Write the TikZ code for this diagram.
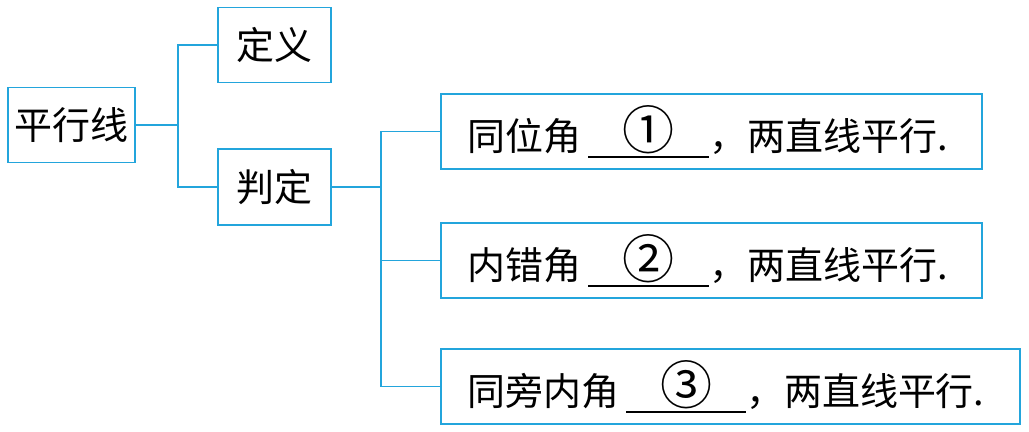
\documentclass[tikz,border=0pt]{standalone}
\usepackage{fontspec}
\setmainfont{Noto Sans CJK SC}
\usetikzlibrary{positioning}
\definecolor{linecol}{RGB}{35,165,220}
\newcommand{\blank}[2]{\makebox[#1]{\fontsize{37}{37}\selectfont\raisebox{1pt}{#2}}\llap{\rule[-5pt]{#1}{1.4pt}}}

\begin{document}
\begin{tikzpicture}[x=0.025cm,y=-0.025cm,
    every node/.style={font=\fontsize{27}{30}\selectfont},
    box/.style={draw=linecol,line width=1.3pt,minimum height=1.875cm,inner sep=0pt},
    wide/.style={box,anchor=west,inner xsep=0.675cm,text width=#1,align=left},
    link/.style={draw=linecol,line width=1.4pt}]
    \useasboundingbox (0,0) rectangle (1029,432);
    \node[box,minimum width=3.175cm] (PX) at (71.5,125) {平行线};
    \node[box,minimum width=2.825cm] (DY) at (274.5,45) {定义};
    \node[box,minimum width=2.825cm,minimum height=1.9cm] (PD) at (274.5,187) {判定};
    \node[wide=12.175cm] (TW) at (440,131.5) {同位角\,\blank{3.025cm}{①}，两直线平行.};
    \node[wide=12.175cm] (NC) at (440,260.5) {内错角\,\blank{3.025cm}{②}，两直线平行.};
    \node[wide=13.125cm] (TP) at (440,386.5) {同旁内角\,\blank{3cm}{③}，两直线平行.};
    \coordinate (J1) at (178,125);
    \coordinate (J2) at (381,187);
    \draw[link] (PX.east) -- (J1) (J1) |- (DY.west) (J1) |- (PD.west);
    \draw[link] (PD.east) -- (J2) (J2) |- (TW.west) (J2) |- (NC.west) (J2) |- (TP.west);
  \end{tikzpicture}
\end{document}
